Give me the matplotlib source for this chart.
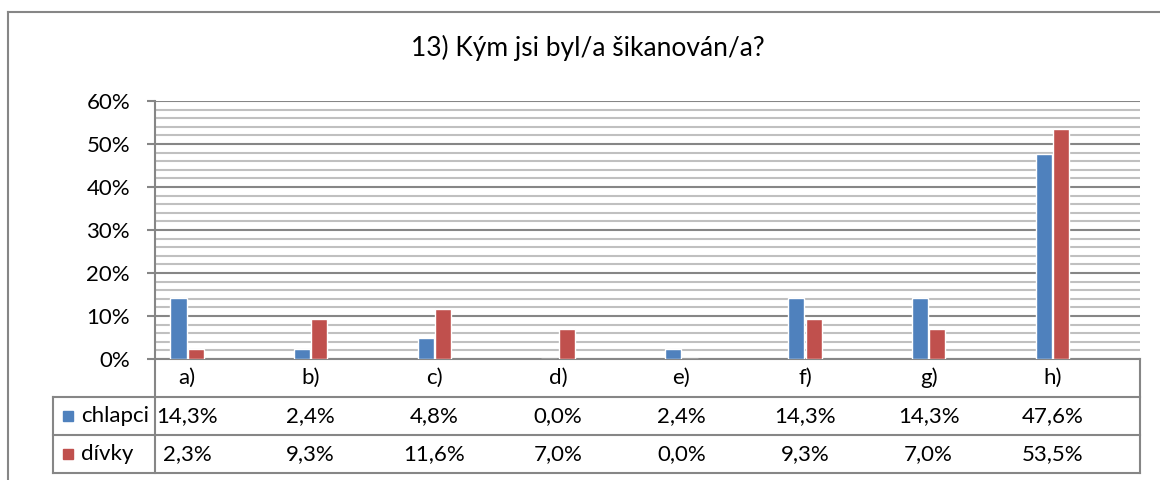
import numpy as np
import matplotlib
matplotlib.use('Agg')
import matplotlib.pyplot as plt
from matplotlib.lines import Line2D
from matplotlib.patches import Rectangle
from matplotlib.transforms import blended_transform_factory

# data
categories = ['a)', 'b)', 'c)', 'd)', 'e)', 'f)', 'g)', 'h)']
chlapci = [14.3, 2.4, 4.8, 0.0, 2.4, 14.3, 14.3, 47.6]
divky = [2.3, 9.3, 11.6, 7.0, 0.0, 9.3, 7.0, 53.5]
series_names = ['chlapci', 'dívky']
title = '13) Kým jsi byl/a šikanován/a?'

blue = '#4F81BD'
red = '#C0504D'
line_col = '#868686'
font = 'Lato'

W, H = 1160, 480
fig = plt.figure(figsize=(W / 100, H / 100), dpi=100)


def fx(px):
    return px / W


def fy(py):
    return 1 - py / H


# plot area in pixels
L, R, T, B = 155, 1140, 101, 359
ax = fig.add_axes([fx(L), fy(B), fx(R - L), (B - T) / H])

x = np.arange(len(categories))
bw = 0.13
ax.bar(x - 0.07, chlapci, bw, color=blue, edgecolor='white', linewidth=1, zorder=3)
ax.bar(x + 0.07, divky, bw, color=red, edgecolor='white', linewidth=1, zorder=3)

ax.set_xlim(-0.26, 7.71)
ax.set_ylim(0, 60)
ax.set_yticks(np.arange(0, 61, 10))
ax.set_yticks(np.arange(0, 61, 2), minor=True)
ax.set_yticklabels([f'{v}%' for v in range(0, 61, 10)], fontsize=16, family=font)
ax.tick_params(axis='y', which='major', length=6, width=1.5, color=line_col, pad=12)
ax.tick_params(axis='y', which='minor', length=0)
ax.set_xticks([])
ax.yaxis.grid(True, which='major', color=line_col, lw=1.5, zorder=0)
ax.yaxis.grid(True, which='minor', color='#c0c0c0', lw=1.5, zorder=0)
for s in ['top', 'right', 'left']:
    ax.spines[s].set_visible(False)
ax.spines['bottom'].set_color(line_col)
ax.spines['bottom'].set_linewidth(1.5)

# title
fig.text(fx(588), fy(48), title, ha='center', va='center', fontsize=19, family=font)


def hline(px0, px1, py):
    fig.add_artist(Line2D([fx(px0), fx(px1)], [fy(py), fy(py)], color=line_col, lw=1.5))


def vline(px, py0, py1):
    fig.add_artist(Line2D([fx(px), fx(px)], [fy(py0), fy(py1)], color=line_col, lw=1.5))


# outer chart frame
hline(8, W, 12)
vline(8, 12, H)

# data table
rows_y = [397, 435, 473]
vline(L, T, 473)
vline(R, B, 473)
vline(53, 397, 473)
for ry in rows_y:
    hline(53, R, ry)

tr = blended_transform_factory(ax.transData, fig.transFigure)
for i, c in enumerate(categories):
    ax.text(i, fy(378), c, transform=tr, ha='center', va='center', fontsize=16, family=font)

for series, name, col, cy in [(chlapci, series_names[0], blue, 416), (divky, series_names[1], red, 454)]:
    fig.add_artist(Rectangle((fx(63), fy(cy + 5)), fx(10), 10 / H, color=col))
    fig.text(fx(81), fy(cy), name, ha='left', va='center', fontsize=16, family=font)
    for i, v in enumerate(series):
        ax.text(i, fy(cy), f'{v:.1f}%'.replace('.', ','), transform=tr,
                ha='center', va='center', fontsize=16, family=font)

fig.savefig('out.png', dpi=100)
